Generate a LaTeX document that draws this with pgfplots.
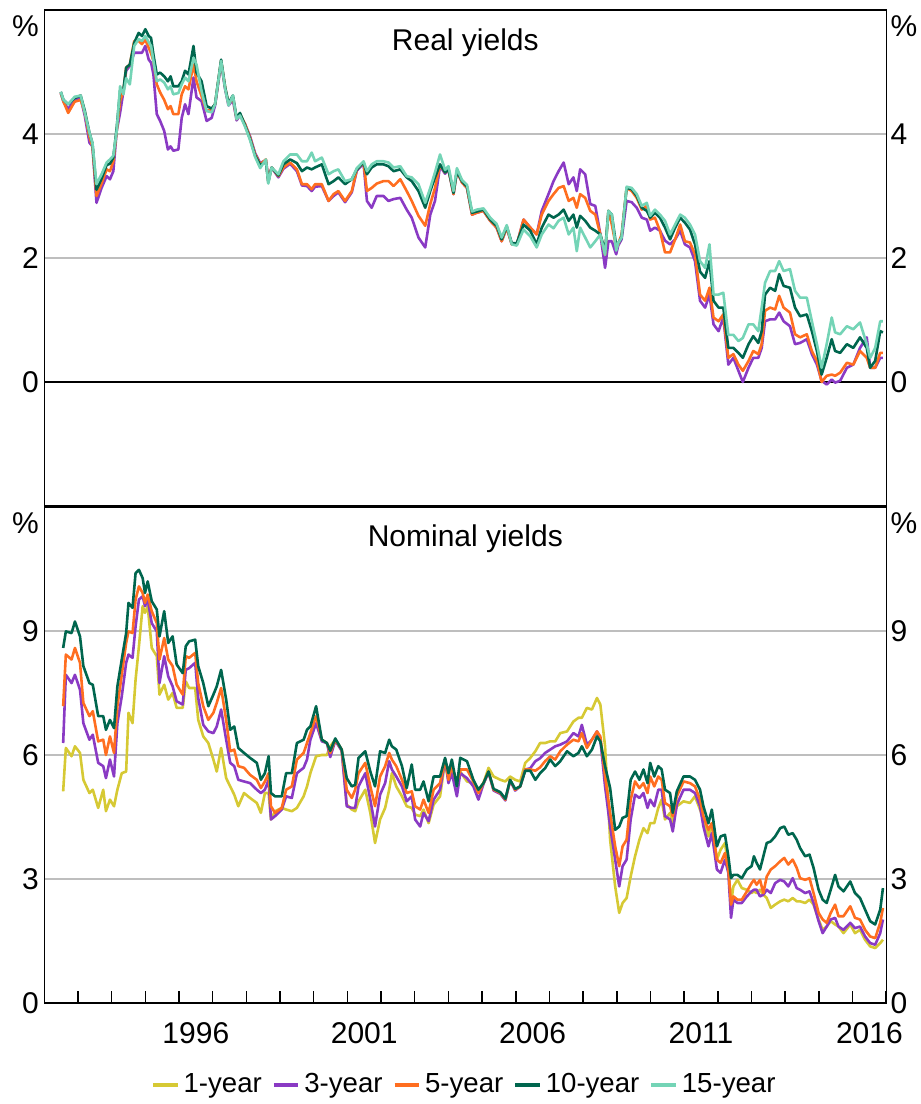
\documentclass[border=0pt]{standalone}
\usepackage{pgfplots}
\pgfplotsset{compat=1.18}
\usepackage{pgfplotstable}
\usepackage{fontspec}
\setmainfont{Liberation Sans}

\definecolor{yr1}{RGB}{214,201,52}
\definecolor{yr3}{RGB}{138,58,196}
\definecolor{yr5}{RGB}{255,110,32}
\definecolor{yr10}{RGB}{0,102,78}
\definecolor{yr15}{RGB}{116,212,182}
\definecolor{gridgray}{RGB}{190,190,190}

% real yields: year, 3y, 5y, 10y, 15y
\pgfplotstableread{
yr r3 r5 r10 r15
1992.49 4.66 4.66 4.68 4.68
1992.57 4.52 4.52 4.55 4.55
1992.71 4.40 4.34 4.48 4.48
1992.90 4.55 4.52 4.58 4.60
1993.08 4.58 4.55 4.62 4.62
1993.20 4.30 4.35 4.38 4.35
1993.34 3.86 3.95 4.02 4.02
1993.43 3.80 3.80 3.85 3.85
1993.55 2.89 3.00 3.10 3.19
1993.70 3.13 3.20 3.28 3.35
1993.85 3.32 3.43 3.50 3.54
1993.95 3.27 3.40 3.52 3.59
1994.05 3.40 3.56 3.62 3.65
1994.15 4.05 4.05 4.10 4.05
1994.25 4.34 4.53 4.70 4.77
1994.35 4.69 4.70 4.72 4.64
1994.43 5.02 5.07 5.07 4.90
1994.54 5.10 5.12 5.12 4.80
1994.67 5.31 5.50 5.47 5.42
1994.80 5.31 5.50 5.63 5.53
1994.90 5.31 5.45 5.58 5.50
1995.00 5.42 5.52 5.69 5.58
1995.10 5.20 5.39 5.58 5.48
1995.17 5.15 5.30 5.55 5.42
1995.24 4.96 5.18 5.28 5.18
1995.34 4.32 4.80 4.96 4.85
1995.44 4.21 4.67 4.99 4.88
1995.56 4.05 4.55 4.93 4.83
1995.67 3.75 4.40 4.85 4.72
1995.75 3.80 4.45 4.93 4.77
1995.83 3.73 4.32 4.77 4.64
1995.98 3.75 4.32 4.77 4.66
1996.08 4.26 4.64 4.85 4.80
1996.18 4.48 4.77 5.02 4.91
1996.28 4.32 4.72 4.96 4.85
1996.43 4.91 5.12 5.42 5.23
1996.52 4.59 4.85 4.99 5.12
1996.67 4.53 4.61 4.85 4.69
1996.82 4.21 4.37 4.45 4.37
1996.97 4.26 4.40 4.41 4.35
1997.07 4.46 4.48 4.48 4.48
1997.25 5.15 5.18 5.20 5.18
1997.37 4.72 4.75 4.75 4.73
1997.47 4.46 4.48 4.50 4.46
1997.60 4.55 4.59 4.62 4.62
1997.71 4.22 4.24 4.26 4.24
1997.81 4.30 4.32 4.34 4.30
1997.96 4.16 4.16 4.14 4.12
1998.11 3.96 3.94 3.92 3.90
1998.26 3.69 3.67 3.65 3.63
1998.41 3.53 3.51 3.50 3.45
1998.58 3.58 3.59 3.55 3.59
1998.65 3.28 3.25 3.22 3.20
1998.75 3.46 3.46 3.46 3.46
1998.95 3.30 3.32 3.33 3.35
1999.10 3.44 3.46 3.51 3.56
1999.30 3.52 3.54 3.59 3.67
1999.50 3.40 3.43 3.53 3.67
1999.65 3.17 3.19 3.40 3.56
1999.80 3.16 3.19 3.46 3.56
1999.94 3.08 3.11 3.43 3.70
2000.04 3.15 3.19 3.46 3.56
2000.24 3.16 3.19 3.51 3.62
2000.44 2.92 2.92 3.19 3.35
2000.59 3.00 3.03 3.24 3.40
2000.73 3.06 3.08 3.30 3.43
2000.93 2.90 2.92 3.19 3.24
2001.13 3.06 3.08 3.27 3.27
2001.28 3.41 3.43 3.43 3.45
2001.48 3.52 3.54 3.54 3.56
2001.58 2.92 3.08 3.35 3.40
2001.72 2.81 3.13 3.46 3.51
2001.87 3.00 3.20 3.51 3.56
2002.07 3.00 3.24 3.51 3.56
2002.22 2.92 3.24 3.48 3.54
2002.37 2.95 3.16 3.40 3.46
2002.57 2.97 3.27 3.43 3.48
2002.76 2.78 3.08 3.30 3.32
2002.91 2.65 2.92 3.24 3.30
2003.11 2.33 2.68 3.08 3.19
2003.31 2.17 2.52 2.81 2.89
2003.46 2.70 2.87 3.08 3.13
2003.60 2.92 3.13 3.30 3.38
2003.75 3.48 3.50 3.51 3.67
2003.90 3.36 3.38 3.38 3.42
2004.00 3.43 3.43 3.43 3.48
2004.15 3.03 3.03 3.05 3.08
2004.25 3.40 3.40 3.40 3.45
2004.40 3.22 3.22 3.24 3.26
2004.55 3.13 3.13 3.15 3.18
2004.70 2.70 2.70 2.73 2.75
2004.84 2.73 2.73 2.75 2.78
2005.04 2.76 2.76 2.78 2.80
2005.24 2.60 2.60 2.62 2.65
2005.43 2.49 2.49 2.52 2.55
2005.58 2.27 2.27 2.30 2.33
2005.73 2.49 2.49 2.51 2.53
2005.88 2.22 2.22 2.24 2.22
2006.03 2.22 2.22 2.24 2.20
2006.23 2.62 2.62 2.54 2.46
2006.43 2.49 2.49 2.44 2.35
2006.62 2.38 2.38 2.22 2.17
2006.77 2.76 2.70 2.49 2.38
2006.97 3.03 2.92 2.70 2.54
2007.12 3.24 3.03 2.65 2.48
2007.27 3.40 3.13 2.70 2.60
2007.42 3.54 3.16 2.78 2.65
2007.57 3.19 2.92 2.60 2.38
2007.71 3.30 2.97 2.70 2.49
2007.81 3.08 2.81 2.49 2.11
2007.91 3.43 3.03 2.68 2.49
2008.06 3.35 2.97 2.60 2.33
2008.21 2.87 2.76 2.49 2.17
2008.36 2.84 2.70 2.44 2.27
2008.51 2.38 2.38 2.38 2.38
2008.65 1.84 2.05 2.11 2.05
2008.75 2.27 2.76 2.76 2.76
2008.85 2.27 2.54 2.70 2.70
2008.98 2.06 2.17 2.20 2.12
2009.04 2.20 2.22 2.24 2.24
2009.14 2.30 2.38 2.33 2.33
2009.29 2.92 3.13 3.13 3.15
2009.44 2.90 3.08 3.11 3.13
2009.59 2.81 2.97 3.00 3.03
2009.74 2.65 2.78 2.81 2.84
2009.89 2.62 2.84 2.76 2.89
2009.99 2.44 2.62 2.65 2.68
2010.13 2.49 2.65 2.73 2.78
2010.28 2.44 2.44 2.65 2.70
2010.43 2.28 2.09 2.49 2.60
2010.58 2.22 2.09 2.30 2.38
2010.73 2.30 2.30 2.49 2.54
2010.88 2.44 2.54 2.65 2.70
2011.02 2.22 2.27 2.57 2.65
2011.17 2.17 2.25 2.46 2.54
2011.32 1.95 2.06 2.22 2.38
2011.47 1.31 1.41 1.78 1.95
2011.62 1.20 1.31 1.68 1.84
2011.75 1.41 1.52 1.95 2.22
2011.87 0.93 1.04 1.31 1.41
2012.02 0.82 0.98 1.20 1.41
2012.16 1.04 1.09 1.20 1.44
2012.31 0.28 0.39 0.55 0.76
2012.46 0.39 0.45 0.55 0.76
2012.61 0.18 0.28 0.47 0.66
2012.74 0.00 0.18 0.39 0.71
2012.91 0.23 0.34 0.61 0.93
2013.05 0.39 0.50 0.74 0.93
2013.20 0.39 0.45 0.63 0.82
2013.30 0.55 0.61 0.82 1.20
2013.40 0.98 1.15 1.41 1.60
2013.55 1.01 1.20 1.52 1.79
2013.70 1.01 1.17 1.47 1.79
2013.82 1.12 1.39 1.74 1.95
2013.95 0.98 1.20 1.55 1.79
2014.14 0.90 1.12 1.52 1.82
2014.29 0.61 0.77 1.20 1.47
2014.44 0.63 0.72 1.06 1.36
2014.64 0.69 0.77 1.09 1.36
2014.79 0.45 0.50 0.82 0.98
2014.94 0.28 0.34 0.50 0.61
2015.08 0.02 0.00 0.12 0.23
2015.23 -0.04 0.10 0.39 0.61
2015.38 0.04 0.12 0.69 1.04
2015.48 -0.01 0.10 0.50 0.80
2015.63 0.02 0.15 0.47 0.77
2015.83 0.23 0.31 0.61 0.90
2016.02 0.28 0.28 0.55 0.85
2016.22 0.55 0.50 0.72 0.96
2016.42 0.72 0.39 0.55 0.61
2016.52 0.23 0.23 0.23 0.39
2016.67 0.23 0.23 0.34 0.55
2016.82 0.39 0.47 0.82 0.98
2016.90 0.39 0.47 0.80 0.98
}\realtab

% nominal yields: year, 1y, 3y, 5y, 10y
\pgfplotstableread{
yr n1 n3 n5 n10
1992.56 5.12 6.29 7.18 8.59
1992.64 6.17 7.94 8.43 8.99
1992.81 5.97 7.74 8.31 8.95
1992.91 6.21 7.94 8.59 9.23
1993.06 6.05 7.58 8.23 8.87
1993.16 5.40 6.77 7.26 8.15
1993.34 5.08 6.37 6.94 7.74
1993.44 5.16 6.49 7.06 7.70
1993.60 4.72 5.81 6.33 6.94
1993.75 5.16 5.73 6.37 6.94
1993.83 4.64 5.44 6.00 6.61
1993.95 4.92 5.89 6.45 6.85
1994.07 4.76 5.48 6.05 6.65
1994.17 5.16 6.77 7.18 7.66
1994.30 5.56 7.42 7.94 8.31
1994.43 5.60 8.23 8.71 8.95
1994.50 7.02 8.43 8.99 9.68
1994.62 6.77 8.35 8.95 9.56
1994.71 7.82 9.11 9.76 10.40
1994.81 8.63 9.76 10.08 10.48
1994.92 9.60 9.84 9.92 10.28
1994.99 9.44 9.60 9.68 9.92
1995.07 9.60 9.76 9.88 10.20
1995.19 8.59 9.19 9.48 9.72
1995.34 8.39 8.99 9.19 9.52
1995.42 7.46 7.74 8.31 8.87
1995.56 7.70 8.39 8.83 9.48
1995.68 7.34 7.90 8.31 8.71
1995.81 7.50 7.66 8.15 8.87
1995.93 7.14 7.30 7.70 8.19
1996.11 7.14 7.22 7.46 7.98
1996.20 7.78 8.06 8.39 8.63
1996.30 7.62 8.10 8.35 8.75
1996.48 7.62 8.23 8.47 8.79
1996.57 6.85 7.38 7.74 8.15
1996.72 6.45 6.73 7.18 7.74
1996.87 6.29 6.57 6.85 7.18
1997.02 5.89 6.53 7.02 7.46
1997.12 5.60 6.69 7.26 7.66
1997.25 6.17 7.10 7.62 8.06
1997.40 5.44 6.37 6.85 7.34
1997.52 5.24 5.81 6.09 6.61
1997.64 5.04 5.73 6.13 6.69
1997.76 4.76 5.40 5.73 6.17
1997.93 5.08 5.36 5.69 6.05
1998.11 4.96 5.32 5.52 5.93
1998.31 4.84 5.16 5.40 5.81
1998.43 4.60 5.08 5.20 5.40
1998.55 5.08 5.16 5.36 5.56
1998.66 5.08 5.40 5.56 5.97
1998.73 4.44 4.44 4.76 5.08
1998.85 4.64 4.52 4.60 5.00
1999.05 4.72 4.68 4.72 5.00
1999.18 4.68 5.00 5.16 5.56
1999.35 4.64 4.96 5.24 5.56
1999.50 4.72 5.56 5.89 6.29
1999.70 5.00 5.69 6.05 6.37
1999.80 5.24 5.89 6.29 6.61
1999.90 5.56 6.37 6.53 6.69
2000.07 5.97 6.77 6.94 7.18
2000.24 6.00 6.33 6.37 6.37
2000.39 6.00 6.29 6.29 6.29
2000.49 6.21 5.95 6.05 6.10
2000.64 6.37 6.35 6.37 6.40
2000.83 6.13 6.10 6.13 6.13
2000.98 4.80 4.76 5.16 5.44
2001.13 4.68 4.72 4.96 5.24
2001.23 4.64 4.72 5.16 5.28
2001.33 4.88 5.24 5.56 5.93
2001.53 5.16 5.56 5.81 6.09
2001.68 4.60 4.92 5.24 5.60
2001.82 3.87 4.27 4.76 5.24
2001.97 4.44 5.04 5.48 6.09
2002.12 4.72 5.32 5.73 6.05
2002.24 5.16 5.85 6.05 6.37
2002.32 5.56 5.65 5.89 6.21
2002.45 5.24 5.48 5.73 6.13
2002.62 5.00 5.24 5.40 5.73
2002.76 4.76 4.88 5.08 5.20
2002.91 4.72 5.00 5.12 5.77
2003.01 4.56 4.44 4.76 5.16
2003.16 4.52 4.27 4.68 5.16
2003.26 4.68 4.60 4.92 5.36
2003.41 4.35 4.40 4.60 4.88
2003.56 4.80 4.92 5.16 5.48
2003.75 5.00 5.16 5.32 5.48
2003.90 5.85 5.89 5.89 5.93
2004.00 5.40 5.32 5.40 5.56
2004.10 5.60 5.56 5.73 5.89
2004.25 5.36 5.00 5.32 5.24
2004.35 5.60 5.56 5.65 5.93
2004.55 5.36 5.44 5.65 5.85
2004.74 5.32 5.24 5.36 5.40
2004.89 5.16 4.92 5.08 5.16
2005.04 5.32 5.30 5.32 5.32
2005.19 5.69 5.58 5.60 5.60
2005.34 5.48 5.14 5.16 5.18
2005.54 5.40 5.06 5.08 5.10
2005.69 5.36 4.90 4.92 4.94
2005.83 5.48 5.38 5.40 5.40
2005.98 5.40 5.14 5.16 5.18
2006.13 5.36 5.24 5.24 5.24
2006.28 5.81 5.65 5.65 5.62
2006.43 5.93 5.68 5.65 5.62
2006.58 6.09 5.85 5.62 5.40
2006.72 6.29 5.92 5.70 5.56
2006.87 6.29 6.05 5.85 5.68
2007.02 6.33 6.13 5.97 5.89
2007.17 6.33 6.21 5.89 5.73
2007.32 6.53 6.25 6.09 5.85
2007.52 6.57 6.33 6.25 6.09
2007.71 6.81 6.53 6.37 5.97
2007.86 6.90 6.45 6.33 6.05
2007.96 6.90 6.73 6.53 6.21
2008.11 7.14 6.25 6.17 5.97
2008.26 7.10 6.37 6.37 6.13
2008.41 7.38 6.57 6.57 6.45
2008.51 7.22 6.37 6.45 6.33
2008.65 6.21 5.24 5.48 5.73
2008.80 3.95 4.27 4.60 5.20
2008.95 2.82 3.47 3.79 4.19
2009.07 2.18 2.82 3.31 4.27
2009.17 2.42 3.31 3.79 4.48
2009.29 2.54 3.47 3.95 4.52
2009.41 3.06 4.44 4.92 5.40
2009.54 3.55 5.04 5.36 5.60
2009.67 3.95 4.96 5.20 5.40
2009.79 4.23 5.08 5.32 5.65
2009.91 4.11 4.72 5.08 5.32
2009.99 4.35 4.92 5.48 5.81
2010.11 4.35 4.76 5.24 5.48
2010.23 4.72 5.16 5.48 5.73
2010.33 4.92 5.16 5.40 5.65
2010.43 4.44 4.52 4.84 5.16
2010.58 4.60 4.44 4.76 5.08
2010.66 4.35 4.15 4.52 4.60
2010.78 4.76 4.80 5.00 5.12
2010.98 4.88 5.16 5.36 5.48
2011.17 4.84 5.16 5.32 5.48
2011.32 5.00 5.08 5.24 5.40
2011.47 4.68 4.76 4.92 5.16
2011.57 4.44 4.27 4.52 4.76
2011.72 4.03 3.79 4.19 4.35
2011.82 4.35 4.11 4.35 4.68
2011.97 3.47 3.23 3.47 3.79
2012.08 3.71 3.15 3.39 4.03
2012.21 3.87 3.47 3.63 4.07
2012.31 3.31 3.15 3.23 3.55
2012.39 2.42 2.06 2.38 3.02
2012.46 2.82 2.50 2.58 3.10
2012.58 2.98 2.42 2.50 3.10
2012.71 2.78 2.42 2.50 3.02
2012.86 2.74 2.58 2.70 3.23
2013.00 2.66 2.70 2.90 3.31
2013.07 2.70 2.74 2.98 3.55
2013.15 2.66 2.74 2.86 3.39
2013.25 2.74 2.58 2.98 3.23
2013.35 2.62 2.62 2.66 3.55
2013.45 2.54 2.74 3.06 3.87
2013.57 2.30 2.66 3.23 3.91
2013.70 2.38 2.90 3.31 4.03
2013.85 2.46 2.98 3.43 4.23
2013.97 2.50 2.94 3.51 4.27
2014.09 2.46 2.82 3.35 4.07
2014.22 2.54 3.02 3.47 4.11
2014.34 2.46 2.78 3.27 3.95
2014.44 2.46 2.74 3.02 3.75
2014.59 2.42 2.66 2.98 3.55
2014.72 2.50 2.70 3.02 3.59
2014.84 2.38 2.42 2.66 3.27
2014.99 2.02 1.98 2.18 2.74
2015.11 1.77 1.69 2.02 2.50
2015.23 1.85 1.85 1.94 2.42
2015.35 1.98 2.02 2.18 2.74
2015.48 1.90 2.06 2.38 3.10
2015.58 1.85 1.85 2.10 2.82
2015.73 1.69 1.77 2.10 2.70
2015.93 1.90 1.94 2.34 2.94
2016.07 1.69 1.81 2.06 2.66
2016.22 1.77 1.85 2.02 2.54
2016.37 1.53 1.61 1.77 2.26
2016.52 1.37 1.45 1.61 1.98
2016.67 1.33 1.41 1.57 1.90
2016.82 1.45 1.69 1.94 2.26
2016.90 1.53 2.02 2.30 2.78
}\nomtab

\pgfplotsset{
  panel/.style={
    scale only axis, width=421pt, height=248pt,
    xmin=1992, xmax=2017,
    clip=false,
    axis line style={black, line width=0.75pt},
    ymajorgrids, grid style={gridgray, line width=0.75pt},
    ytick style={draw=none},
    yticklabel pos=left,
    yticklabel style={inner xsep=2.5pt},
    tick label style={font=\fontsize{15}{18}\selectfont},
    /pgf/number format/assume math mode=true,
    every axis plot/.append style={line width=1.3pt, line join=round},
  },
}
\tikzset{
  rlab/.style={anchor=west, inner xsep=2pt, font=\fontsize{15}{18}\selectfont},
  pct/.style={yshift=-13.3pt, font=\fontsize{15}{18}\selectfont},
}

\begin{document}
\begin{tikzpicture}
\begin{axis}[panel, at={(0pt,248.5pt)}, anchor=south west,
  ymin=-2, ymax=6, ytick={2,4}, xtick=\empty,
  extra y ticks={0}, extra y tick style={grid style={black, line width=0.75pt}}]
  \addplot[yr3] table[x=yr, y=r3] {\realtab};
  \addplot[yr5] table[x=yr, y=r5] {\realtab};
  \addplot[yr10] table[x=yr, y=r10] {\realtab};
  \addplot[yr15] table[x=yr, y=r15] {\realtab};
  \node[anchor=base, yshift=-20.3pt, font=\fontsize{15}{18}\selectfont] at (rel axis cs:0.5,1) {Real yields};
  \node[pct, anchor=base east, inner xsep=2.5pt] at (rel axis cs:0,1) {\%};
  \node[pct, anchor=base west, inner xsep=2pt] at (rel axis cs:1,1) {\%};
  \node[rlab] at (axis cs:2017,4) {4};
  \node[rlab] at (axis cs:2017,2) {2};
  \node[rlab] at (axis cs:2017,0) {0};
\end{axis}

\begin{axis}[panel, at={(0pt,0pt)}, anchor=south west,
  ymin=0, ymax=12, ytick={0,3,6,9},
  xtick={1992,...,2017},
  xticklabels={,,,,1996,,,,,2001,,,,,2006,,,,,2011,,,,,2016,},
  xtick pos=left, tick align=inside, major tick length=6pt,
  xtick style={black, line width=0.75pt},
  xticklabel style={anchor=base, yshift=-20pt, xshift=8.42pt},
  legend columns=5,
  legend style={draw=none, fill=none, at={(0.5,-0.165)}, anchor=center,
    font=\fontsize{13.8}{16}\selectfont,
    /tikz/every even column/.append style={column sep=3pt}},
  legend image code/.code={\draw[#1, line width=2pt] (0pt,0pt) -- (12.25pt,0pt);},
]
  \addplot[yr1] table[x=yr, y=n1] {\nomtab};
  \addplot[yr3] table[x=yr, y=n3] {\nomtab};
  \addplot[yr5] table[x=yr, y=n5] {\nomtab};
  \addplot[yr10] table[x=yr, y=n10] {\nomtab};
  \addlegendimage{yr15}
  \legend{1-year, 3-year, 5-year, 10-year, 15-year}
  \node[anchor=base, yshift=-20pt, font=\fontsize{15}{18}\selectfont] at (rel axis cs:0.5,1) {Nominal yields};
  \node[pct, anchor=base east, inner xsep=2.5pt] at (rel axis cs:0,1) {\%};
  \node[pct, anchor=base west, inner xsep=2pt] at (rel axis cs:1,1) {\%};
  \node[rlab] at (axis cs:2017,9) {9};
  \node[rlab] at (axis cs:2017,6) {6};
  \node[rlab] at (axis cs:2017,3) {3};
  \node[rlab] at (axis cs:2017,0) {0};
\end{axis}

\pgfresetboundingbox
\path[use as bounding box] (-22.15pt,-50.5pt) rectangle (438.35pt,501.5pt);
\end{tikzpicture}
\end{document}
